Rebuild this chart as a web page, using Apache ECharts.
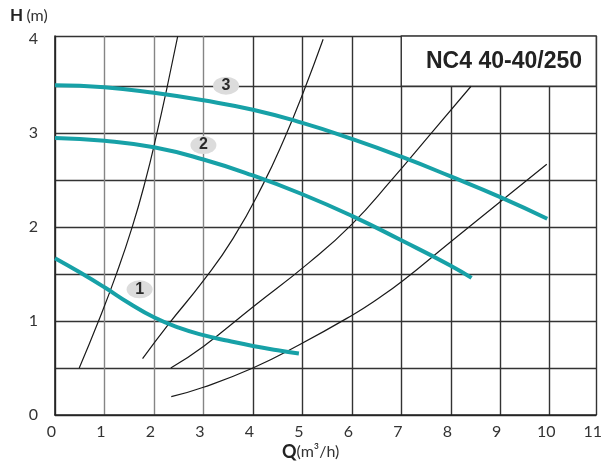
<!DOCTYPE html>
<html>
<head>
<meta charset="utf-8">
<script src="https://cdn.jsdelivr.net/npm/echarts@6/dist/echarts.min.js"></script>
<style>
html,body{margin:0;padding:0;background:#fff;}
#chart{width:605px;height:468px;}
</style>
</head>
<body>
<div id="chart"></div>
<script>
// Pump curves (Q m3/h, H m)
const pump1 = [[0,1.67],[0.5,1.52],[1,1.36],[1.5,1.19],[2,1.04],[2.5,0.93],[3,0.85],[3.5,0.79],[4,0.735],[4.5,0.69],[4.93,0.655]];
const pump2 = [[0,2.95],[1,2.92],[2,2.85],[3,2.72],[4,2.55],[5,2.35],[6,2.12],[7,1.86],[8,1.59],[8.42,1.46]];
const pump3 = [[0,3.51],[1,3.49],[2,3.43],[3,3.35],[4,3.25],[5,3.11],[6,2.94],[7,2.75],[8,2.54],[9,2.32],[9.95,2.09]];
// System curves
const sysA = [[0.49,0.5],[0.88,1.0],[1.24,1.5],[1.56,2.0],[1.83,2.5],[2.06,3.0],[2.27,3.5],[2.48,4.03]];
const sysB = [[1.77,0.6],[2.3,0.97],[3.0,1.43],[3.6,1.88],[4.2,2.45],[4.65,2.96],[5.03,3.45],[5.42,4.0]];
const sysC = [[2.34,0.5],[3.0,0.73],[4.0,1.15],[5.13,1.62],[6.0,2.03],[6.8,2.5],[7.62,3.01],[8.41,3.5]];
const sysD = [[2.35,0.195],[3.0,0.295],[4.0,0.5],[4.93,0.745],[6.0,1.06],[6.49,1.224],[7.05,1.437],[8.0,1.845],[9.0,2.27],[9.94,2.67]];
// Curve number badges
const badgeQ = [1.71, 3.0, 3.457];
const badgeH = [1.338, 2.874, 3.506];
const badgeText = ['1', '2', '3'];
// Axes
const xMin = 0, xMax = 10.94, xStep = 1;
const yMin = 0, yMax = 4.035, yStep = 0.5;
const titleText = 'NC4 40-40/250';

const DARK = '#333333';
const GRAY = '#858585';
const TEAL = '#17a1a7';

const xLineColors = [DARK, GRAY, GRAY, GRAY, DARK, DARK, DARK, DARK, DARK, DARK, DARK, DARK];
const yLineColors = [DARK, DARK, DARK, DARK, DARK, DARK, DARK, DARK, 'rgba(0,0,0,0)', DARK];

const chart = echarts.init(document.getElementById('chart'), null, {renderer: 'canvas'});

function pumpSeries(d) {
  return {type: 'line', data: d, smooth: 0.5, symbol: 'none', z: 4,
    lineStyle: {color: TEAL, width: 4, cap: 'butt'}};
}
function sysSeries(d) {
  return {type: 'line', data: d, smooth: 0.5, symbol: 'none', z: 3,
    lineStyle: {color: '#1a1a1a', width: 1.2}};
}

const option = {
  animation: false,
  backgroundColor: '#fff',
  grid: {left: 55, right: 7, top: 36, bottom: 53, containLabel: false},
  xAxis: {
    type: 'value', min: xMin, max: xMax, interval: xStep,
    axisLine: {show: true, onZero: false, lineStyle: {color: '#222', width: 1.6}},
    axisTick: {show: false},
    splitLine: {show: true, lineStyle: {color: xLineColors, width: 1.4}},
    axisLabel: {
      fontFamily: 'Lato', fontSize: 16, color: '#333', margin: 9,
      padding: [0, 7, 0, 0],
      formatter: v => String(Math.round(v))
    }
  },
  yAxis: {
    type: 'value', min: yMin, max: yMax, interval: yStep,
    axisLine: {show: true, onZero: false, lineStyle: {color: '#222', width: 1.6}},
    axisTick: {show: false},
    splitLine: {show: true, lineStyle: {color: yLineColors, width: 1.3}},
    axisLabel: {
      fontFamily: 'Lato', fontSize: 16, color: '#333', margin: 17,
      padding: [2, 0, 0, 0],
      formatter: v => (Math.abs(v - Math.round(v)) < 1e-6 ? String(Math.round(v)) : '')
    }
  },
  graphic: [
    {type: 'text', left: 10, top: 7, z: 10,
      style: {text: '{b|H} {n|(m)}', rich: {
        b: {fontFamily: 'Lato', fontWeight: 'bold', fontSize: 17, fill: '#222'},
        n: {fontFamily: 'Lato', fontSize: 16, fill: '#333'}
      }}},
    {type: 'text', left: 282, top: 443, z: 10,
      style: {text: '{b|Q}{n|(m³/h)}', rich: {
        b: {fontFamily: 'Lato', fontWeight: 'bold', fontSize: 18, fill: '#222'},
        n: {fontFamily: 'Lato', fontSize: 16, fill: '#333'}
      }}},
    {type: 'text', right: 23, top: 50, z: 10,
      style: {text: titleText, fontFamily: 'Liberation Sans', fontWeight: 'bold', fontSize: 23, fill: '#222'}}
  ],
  series: [
    {type: 'line', data: [], z: 2,
      markArea: {silent: true, z: 2,
        itemStyle: {color: '#ffffff', opacity: 1, borderColor: DARK, borderWidth: 1.3},
        data: [[{coord: [7, 3.5]}, {coord: [xMax, yMax]}]]}},
    sysSeries(sysA), sysSeries(sysB), sysSeries(sysC), sysSeries(sysD),
    pumpSeries(pump1), pumpSeries(pump2), pumpSeries(pump3),
    {type: 'scatter', z: 5, symbol: 'circle', symbolSize: [26, 18],
      itemStyle: {color: '#dcdcdc', opacity: 1},
      label: {show: true, position: 'inside', formatter: p => p.name,
        fontFamily: 'Liberation Sans', fontWeight: 'bold', fontSize: 16, color: '#2a2a2a'},
      data: badgeQ.map((q, i) => ({name: badgeText[i], value: [q, badgeH[i]]}))}
  ]
};
chart.setOption(option);
</script>
</body>
</html>
